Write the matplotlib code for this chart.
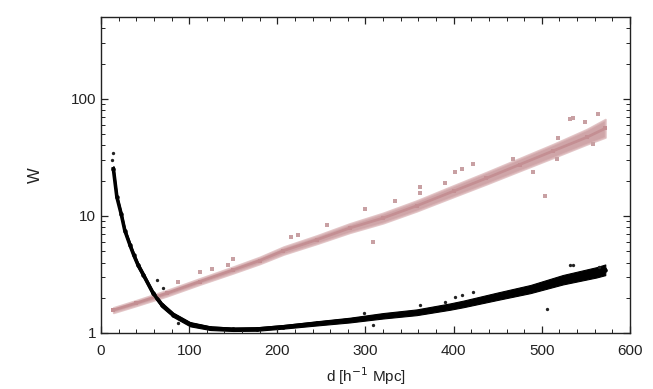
import numpy as np
import matplotlib
matplotlib.use("Agg")
import matplotlib.pyplot as plt
from matplotlib.ticker import LogLocator, MultipleLocator, FixedFormatter, FixedLocator

plt.rcParams['font.family'] = ['Liberation Sans', 'DejaVu Sans']

# pink series: band centre and spread
pink_d = [14, 40, 75, 112, 150, 180, 207, 245, 282, 320, 358, 400, 437, 475, 513, 551, 572]
pink_w = [1.57, 1.8, 2.19, 2.75, 3.46, 4.16, 5.05, 6.27, 7.88, 9.6, 12.2, 16.3, 21.0, 27.5, 36, 47, 56]
pink_lo = [1.49, 1.71, 2.07, 2.6, 3.25, 3.9, 4.7, 5.8, 7.2, 8.7, 11.0, 14.6, 18.7, 24.3, 31.5, 41, 47]
pink_hi = [1.65, 1.9, 2.32, 2.92, 3.68, 4.45, 5.45, 6.8, 8.6, 10.6, 13.5, 18.2, 23.6, 31.1, 41, 55, 67]
pink_out_d = [87.7, 112.3, 125.5, 144.4, 150, 216, 224, 256, 299.4, 308.8, 333.4, 361.8, 361.8,
              390, 401.5, 409, 422, 467.6, 490, 503.6, 516.8, 518.7, 532, 535, 549, 558, 564]
pink_out_w = [2.72, 3.35, 3.53, 3.83, 4.28, 6.6, 6.9, 8.4, 11.5, 6.0, 13.3, 17.7, 15.7,
              19.2, 23.8, 25.4, 27.8, 30.8, 23.6, 14.7, 30.4, 46.5, 68, 69, 63, 41, 73.7]

# black series
black_d = [14, 18, 23, 27, 33, 37, 42, 48, 59, 69, 82, 101, 124, 150, 177, 207, 245,
           282, 320, 358, 396, 411, 449, 487, 524, 562, 572]
black_w = [25.3, 14.5, 10.3, 7.5, 5.6, 4.66, 3.8, 3.14, 2.19, 1.74, 1.43, 1.19, 1.10, 1.075,
           1.08, 1.13, 1.21, 1.29, 1.40, 1.50, 1.68, 1.77, 2.05, 2.37, 2.85, 3.29, 3.46]
black_lo = [24.0, 13.8, 9.8, 7.1, 5.3, 4.42, 3.6, 2.99, 2.09, 1.66, 1.37, 1.14, 1.06, 1.04,
            1.045, 1.09, 1.16, 1.23, 1.33, 1.42, 1.58, 1.66, 1.91, 2.19, 2.6, 2.98, 3.12]
black_hi = [26.6, 15.2, 10.8, 7.9, 5.9, 4.9, 4.0, 3.29, 2.29, 1.82, 1.49, 1.24, 1.14, 1.11,
            1.12, 1.17, 1.26, 1.35, 1.48, 1.59, 1.79, 1.89, 2.21, 2.57, 3.13, 3.65, 3.85]
black_out_d = [12.8, 13.3, 63, 70.7, 87.7, 298.7, 308.9, 361.8, 390, 401.5, 409, 422,
               505.4, 532, 535, 565]
black_out_w = [30, 34.2, 2.85, 2.42, 1.21, 1.47, 1.17, 1.74, 1.85, 2.02, 2.12, 2.23,
               1.61, 3.83, 3.83, 3.65]

pink = '#c48f93'

fig = plt.figure(figsize=(6.53, 3.89), dpi=100)
ax = fig.add_axes([0.1547, 0.144, 0.81, 0.812])

ax.fill_between(pink_d, pink_lo, pink_hi, color=pink, lw=1.5, alpha=0.8, edgecolor='#dcb8ba')
ax.plot(pink_d, pink_w, color=pink, lw=2.0, marker='s', ms=3, mew=0)
ax.plot(pink_out_d, pink_out_w, ls='none', marker='s', ms=2.2, mew=0, color='#c8a0a3')

ax.fill_between(black_d, black_lo, black_hi, color='black', lw=0.8)
ax.plot(black_d, black_w, color='black', lw=2.6, marker='o', ms=3.2, mew=0)
ax.plot(black_out_d, black_out_w, ls='none', marker='o', ms=2.4, mew=0, color='#222222')

ax.set_yscale('log')
ax.set_xlim(0, 600)
ax.set_ylim(1, 500)
ax.xaxis.set_major_locator(MultipleLocator(100))
ax.xaxis.set_minor_locator(MultipleLocator(20))
ax.yaxis.set_major_locator(FixedLocator([1, 10, 100]))
ax.yaxis.set_major_formatter(FixedFormatter(['1', '10', '100']))
ax.yaxis.set_minor_locator(LogLocator(base=10, subs=np.arange(2, 10)))
ax.yaxis.set_minor_formatter(plt.NullFormatter())

ax.tick_params(which='both', direction='in', top=True, right=True, labelsize=11,
               colors='#222222')
ax.tick_params(which='major', length=5, width=0.9)
ax.tick_params(which='minor', length=3, width=0.7)
ax.tick_params(axis='x', pad=8)
for s in ax.spines.values():
    s.set_linewidth(1.0)
    s.set_color('#222222')

ax.set_xlabel('d [h$^{-1}$ Mpc]', fontsize=11, labelpad=5, color='#222222')
ax.set_ylabel('W', fontsize=12, labelpad=20, color='#222222')

fig.savefig('out.png', dpi=100)
